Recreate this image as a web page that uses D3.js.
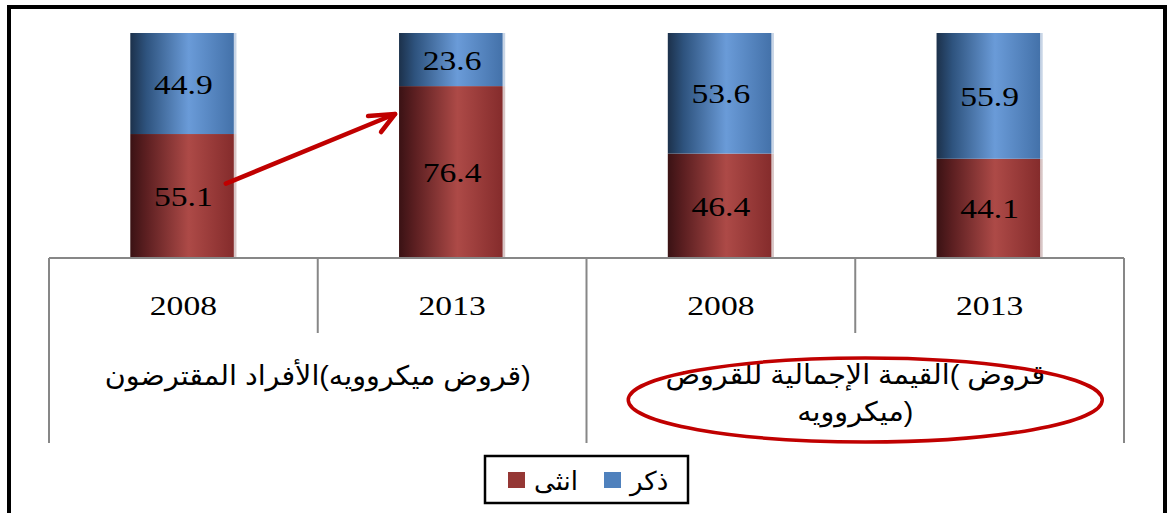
<!DOCTYPE html>
<html><head><meta charset="utf-8">
<script src="https://cdn.jsdelivr.net/npm/d3@7"></script>
<style>html,body{margin:0;padding:0;background:#fff;}svg{display:block;}</style>
</head><body>
<svg id="c" width="1171" height="513"></svg>
<script>
const years = ["2008", "2013", "2008", "2013"];
const groups = ["(قروض ميكروويه)الأفراد المقترضون", "قروض )القيمة الإجمالية للقروض|(ميكروويه"];
const female = [55.1, 76.4, 46.4, 44.1];
const male = [44.9, 23.6, 53.6, 55.9];
const seriesNames = ["ذكر", "انثى"];

const svg = d3.select("#c");
const plotLeft = 49, plotRight = 1124, plotTop = 33, plotBase = 258;

const x = d3.scaleBand().domain(d3.range(years.length)).range([plotLeft, plotRight]).padding(0);
const y = d3.scaleLinear().domain([0, 100]).range([plotBase, plotTop]);
const barW = x.bandwidth() * 0.395;
const gx = d3.scaleBand().domain(d3.range(groups.length)).range([plotLeft, plotRight]).padding(0);

const defs = svg.append("defs");
function grad(id, stops) {
  const g = defs.append("linearGradient").attr("id", id).attr("x1", 0).attr("x2", 1).attr("y1", 0).attr("y2", 0);
  stops.forEach(s => g.append("stop").attr("offset", s[0]).attr("stop-color", s[1]));
}
grad("gRed", [[0, "#3a1214"], [0.15, "#5c1f21"], [0.55, "#ad4a47"], [0.97, "#852c2c"], [0.98, "#d8c6c6"], [1, "#d8c6c6"]]);
grad("gBlue", [[0, "#1c314b"], [0.15, "#2e537e"], [0.55, "#6a9bd8"], [0.97, "#4472aa"], [0.98, "#c8d5e6"], [1, "#c8d5e6"]]);

// outer border
svg.append("rect").attr("x", 9).attr("y", 7).attr("width", 1156).attr("height", 530)
  .attr("fill", "none").attr("stroke", "#000").attr("stroke-width", 4);

// stacked bars
const stack = years.map((yr, i) => ({ i, f: female[i], m: male[i] }));
const bars = svg.append("g");
stack.forEach(d => {
  const bx = x(d.i) + (x.bandwidth() - barW) / 2;
  bars.append("rect").attr("x", bx).attr("width", barW)
    .attr("y", y(d.f)).attr("height", y(0) - y(d.f)).attr("fill", "url(#gRed)");
  bars.append("rect").attr("x", bx).attr("width", barW)
    .attr("y", y(d.f + d.m)).attr("height", y(d.f) - y(d.f + d.m)).attr("fill", "url(#gBlue)");
});

function stretchText(g, cx, cy, txt, size, family, sx, dir) {
  const t = g.append("g").attr("transform", `translate(${cx},${cy}) scale(${sx},1)`);
  const el = t.append("text").attr("text-anchor", "middle").attr("font-family", family)
    .attr("font-size", size).attr("fill", "#000").text(txt);
  if (dir) el.attr("direction", dir);
  return el;
}

const serif = "'Liberation Serif','Times New Roman',serif";
const sans = "Arial,'Liberation Sans','DejaVu Sans',sans-serif";

// value labels
const labels = svg.append("g");
stack.forEach(d => {
  const cx = x(d.i) + x.bandwidth() / 2;
  stretchText(labels, cx, (y(0) + y(d.f)) / 2 + 10, d.f.toFixed(1), 28, serif, 1.2);
  stretchText(labels, cx, (y(d.f) + y(d.f + d.m)) / 2 + 10, d.m.toFixed(1), 28, serif, 1.2);
});

// multi-level category axis
const ax = svg.append("g").attr("stroke", "#878787").attr("stroke-width", 2);
ax.append("line").attr("x1", plotLeft).attr("x2", plotRight).attr("y1", plotBase).attr("y2", plotBase);
years.forEach((yr, i) => {
  if (i % 2 === 1) ax.append("line").attr("x1", x(i)).attr("x2", x(i)).attr("y1", plotBase).attr("y2", 333);
});
[plotLeft, gx(1), plotRight].forEach(v => ax.append("line").attr("x1", v).attr("x2", v).attr("y1", plotBase).attr("y2", 443));

const axl = svg.append("g");
years.forEach((yr, i) => stretchText(axl, x(i) + x.bandwidth() / 2, 315, yr, 28, serif, 1.2));
groups.forEach((gname, j) => {
  const lines = gname.split("|");
  const cx = gx(j) + gx.bandwidth() / 2;
  lines.forEach((ln, k) => {
    const yy = lines.length === 1 ? 385 : 384 + k * 37;
    stretchText(axl, cx, yy, ln, 27, sans, 1.06, "rtl");
  });
});

// annotations: arrow and ellipse
const ann = svg.append("g").attr("stroke", "#c00000").attr("fill", "none")
  .attr("stroke-linecap", "round").attr("stroke-linejoin", "round");
const ax0 = x(0) + (x.bandwidth() - barW) / 2 + barW * 0.9, ay0 = y(female[0] * 0.6);
const ax1 = x(1) + (x.bandwidth() - barW) / 2 - 4, ay1 = y(64);
ann.append("line").attr("x1", ax0).attr("y1", ay0).attr("x2", ax1).attr("y2", ay1).attr("stroke-width", 4.5);
ann.append("polyline").attr("points", `${ax1 - 27},${ay1 + 2} ${ax1},${ay1} ${ax1 - 14},${ay1 + 18}`).attr("stroke-width", 4.5);
ann.append("ellipse").attr("cx", gx(1) + gx.bandwidth() / 2 + 10).attr("cy", 400)
  .attr("rx", 237).attr("ry", 42).attr("stroke-width", 3.5);

// legend
const lg = svg.append("g");
lg.append("rect").attr("x", 485).attr("y", 456).attr("width", 203).attr("height", 47)
  .attr("fill", "#fff").attr("stroke", "#000").attr("stroke-width", 2.5);
const legendItems = [
  { name: seriesNames[1], color: "#953735", sx: 508 },
  { name: seriesNames[0], color: "#4f81bd", sx: 604 }
];
legendItems.forEach(it => {
  lg.append("rect").attr("x", it.sx).attr("y", 472).attr("width", 17).attr("height", 16).attr("fill", it.color);
  lg.append("text").attr("x", it.sx + 26).attr("y", 490).attr("font-family", sans).attr("font-size", 26)
    .attr("fill", "#000").text(it.name);
});
</script>
</body></html>
